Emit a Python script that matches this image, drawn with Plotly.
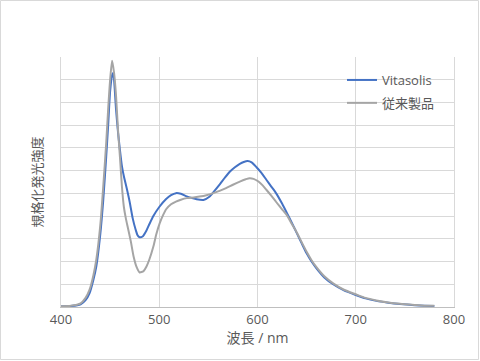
import plotly.graph_objects as go

wl_blue = [400, 410, 420, 425, 429, 433, 436, 440, 443, 446, 448, 450, 452, 453, 454, 456, 458, 460, 462, 464, 467, 470, 473, 476, 478, 480, 483, 487, 490, 494, 500, 507, 512, 517, 522, 528, 533, 538, 545, 551, 556, 562, 567, 572, 577, 582, 586, 590, 594, 599, 604, 609, 614, 619, 625, 630, 635, 640, 645, 650, 655, 660, 668, 677, 688, 700, 710, 721, 733, 745, 760, 770, 780]
val_blue = [0.003, 0.004, 0.012, 0.03, 0.06, 0.12, 0.18, 0.32, 0.47, 0.66, 0.80, 0.95, 1.02, 1.03, 1.0, 0.87, 0.77, 0.69, 0.62, 0.575, 0.52, 0.46, 0.39, 0.34, 0.315, 0.307, 0.31, 0.337, 0.365, 0.40, 0.44, 0.475, 0.492, 0.501, 0.498, 0.487, 0.48, 0.474, 0.471, 0.485, 0.51, 0.542, 0.57, 0.596, 0.615, 0.63, 0.638, 0.642, 0.636, 0.615, 0.59, 0.56, 0.53, 0.50, 0.455, 0.413, 0.37, 0.325, 0.28, 0.236, 0.2, 0.17, 0.13, 0.1, 0.073, 0.053, 0.038, 0.027, 0.019, 0.013, 0.008, 0.006, 0.004]

wl_gray = [400, 410, 420, 425, 429, 433, 436, 440, 443, 446, 448, 450, 452, 454, 456, 458, 460, 462, 464, 466, 468, 471, 474, 477, 480, 484, 487, 490, 494, 497, 500.5, 504, 507, 512, 517, 522, 528, 535, 541, 548, 555, 562, 568, 575, 582, 588, 592, 596, 601, 605, 609, 614, 619, 625, 630, 635, 640, 645, 650, 655, 660, 668, 677, 688, 700, 710, 721, 733, 745, 760, 770, 780]
val_gray = [0.003, 0.005, 0.016, 0.04, 0.075, 0.14, 0.21, 0.36, 0.53, 0.72, 0.87, 1.0, 1.084, 1.03, 0.93, 0.78, 0.66, 0.53, 0.44, 0.39, 0.35, 0.29, 0.22, 0.175, 0.152, 0.158, 0.178, 0.21, 0.266, 0.32, 0.369, 0.405, 0.43, 0.452, 0.464, 0.472, 0.479, 0.482, 0.486, 0.492, 0.501, 0.512, 0.523, 0.538, 0.552, 0.562, 0.567, 0.564, 0.552, 0.536, 0.516, 0.49, 0.462, 0.43, 0.403, 0.365, 0.328, 0.285, 0.243, 0.206, 0.175, 0.135, 0.104, 0.076, 0.056, 0.04, 0.029, 0.02, 0.014, 0.009, 0.006, 0.005]

names = ["Vitasolis", "従来製品"]
colors = ["#4472C4", "#A5A5A5"]
x_ticks = [400, 500, 600, 700, 800]

FONT = "Open Sans, Noto Sans CJK JP, sans-serif"

fig = go.Figure()
fig.add_trace(go.Scatter(x=wl_blue, y=val_blue, mode="lines", name=names[0],
                         line=dict(color=colors[0], width=2, shape="spline", smoothing=0.6),
                         legendgroup="a"))
fig.add_trace(go.Scatter(x=wl_gray, y=val_gray, mode="lines", name=names[1],
                         line=dict(color=colors[1], width=2, shape="spline", smoothing=0.6),
                         legendgroup="b"))

L, R, T, B = 61, 26, 57, 54
W, H = 480, 361
pw, ph = W - L - R, H - T - B

fig.update_layout(
    width=W, height=H,
    margin=dict(l=L, r=R, t=T, b=B, autoexpand=False),
    paper_bgcolor="white", plot_bgcolor="white",
    font=dict(family=FONT, color="#595959", size=12),
    showlegend=True,
    legend=dict(x=(342 - L) / pw, y=(307 - 65) / ph, xanchor="left", yanchor="top",
                bgcolor="rgba(0,0,0,0)", font=dict(size=13, color="#595959"),
                tracegroupgap=3, itemwidth=30),
    xaxis=dict(range=[400, 800], tickvals=x_ticks, ticktext=[str(v) for v in x_ticks],
               showgrid=True, gridcolor="#D9D9D9", gridwidth=1,
               showline=True, linecolor="#BFBFBF", linewidth=1, mirror=False,
               zeroline=False, ticks="", tickfont=dict(size=13, color="#595959"),
               title=dict(text="波長 / nm", font=dict(size=14, color="#595959"), standoff=4)),
    yaxis=dict(range=[0, 1.1], dtick=0.1, tick0=0, showticklabels=False,
               showgrid=True, gridcolor="#D9D9D9", gridwidth=1,
               showline=True, linecolor="#D9D9D9", mirror=True, zeroline=False, ticks="",
               title=dict(text="規格化発光強度", font=dict(size=13, color="#595959"), standoff=14)),
)

fig.add_shape(type="rect", xref="paper", yref="paper",
              x0=(0.5 - L) / pw, x1=(W - 1.5 - L) / pw,
              y0=(H - B - 359.5) / ph, y1=(H - B - 0.5) / ph,
              line=dict(color="#D9D9D9", width=1), fillcolor="rgba(0,0,0,0)", layer="below")

fig.write_html("out.html", config={"displayModeBar": False},
               post_script="document.body.style.margin='0';")
